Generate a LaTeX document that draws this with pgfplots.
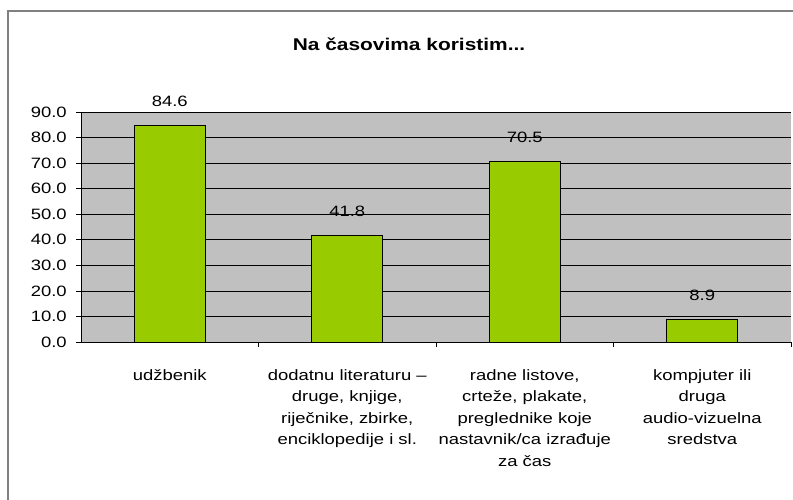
\documentclass[border=0pt]{standalone}
\usepackage{pgfplots}
\pgfplotsset{compat=1.18}
\usepackage{fontspec}
\setmainfont{Liberation Sans}
\definecolor{bargreen}{HTML}{99CC00}
\definecolor{plotgray}{HTML}{C0C0C0}
\definecolor{framegray}{HTML}{808080}
\begin{document}
\begin{tikzpicture}[x=1pt,y=1pt]
\path[use as bounding box] (0,0) rectangle (793,499);
\begin{scope}
\clip (0,0) rectangle (793,499);
\draw[framegray, line width=2pt] (8,-20) rectangle (810,488);
\end{scope}
\node[font=\fontsize{17}{20}\selectfont\bfseries, xscale=1.23] at (409,455) {Na časovima koristim...};
\begin{axis}[
  at={(81pt,157pt)}, anchor=south west,
  scale only axis, width=710pt, height=230pt,
  clip=false,
  axis background/.style={fill=plotgray},
  axis lines=left, axis line style={-, black, line width=0.8pt},
  xmin=-0.5, xmax=3.5, ymin=0, ymax=90,
  ytick={0,10,...,90},
  ymajorgrids, major grid style={black, line width=0.7pt},
  tick align=outside, major tick length=5pt, minor tick length=5pt,
  tick style={black, line width=0.7pt},
  xtick={0,1,2,3},
  every major x tick/.append style={draw=none},
  minor xtick={0.5,1.5,2.5,3.5},
  xticklabels={
    {udžbenik},
    {dodatnu literaturu –\\ druge, knjige,\\ riječnike, zbirke,\\ enciklopedije i sl.},
    {radne listove,\\ crteže, plakate,\\ preglednike koje\\ nastavnik/ca izrađuje\\ za čas},
    {kompjuter ili\\ druga\\ audio-vizuelna\\ sredstva}},
  xticklabel style={font=\fontsize{15}{21.5}\selectfont, align=center, xscale=1.23, anchor=north, yshift=-19pt},
  yticklabel style={font=\fontsize{15}{18}\selectfont, xscale=1.23, anchor=east, xshift=-4pt},
  /pgf/number format/.cd, fixed, fixed zerofill, precision=1, assume math mode=true,
]
\addplot[ybar, bar width=71pt, fill=bargreen, draw=black, line width=0.8pt,
  nodes near coords={\pgfmathprintnumber[fixed,fixed zerofill,precision=1,assume math mode=true]{\pgfplotspointmeta}},
  every node near coord/.append style={font=\fontsize{15}{18}\selectfont, xscale=1.23, anchor=south, yshift=15pt, black}]
  coordinates {(0,84.6) (1,41.8) (2,70.5) (3,8.9)};
\end{axis}
\end{tikzpicture}
\end{document}
